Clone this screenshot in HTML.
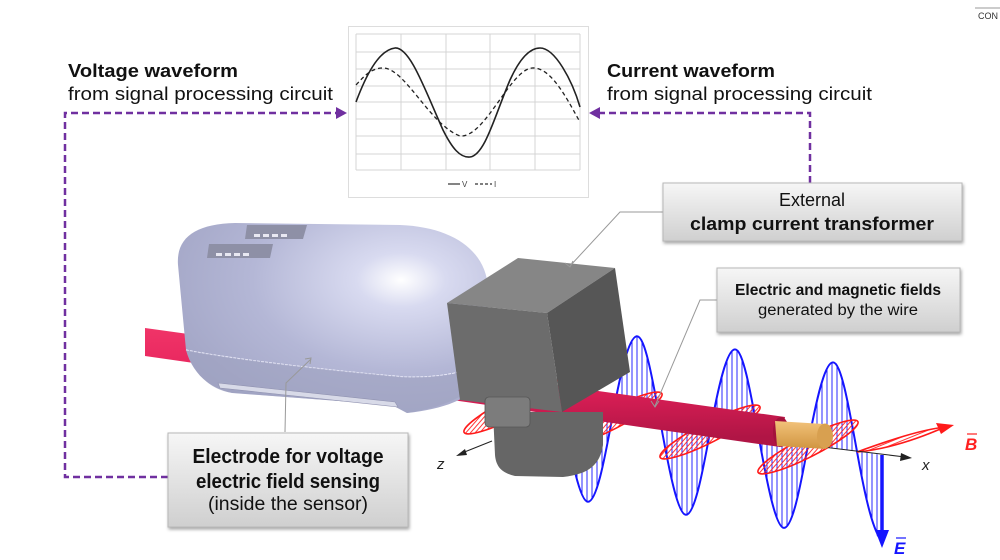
<!DOCTYPE html>
<html><head><meta charset="utf-8"><style>
html,body{margin:0;padding:0;background:#fff;}
svg{display:block;}
text{font-family:"Liberation Sans",sans-serif;}
</style></head><body>
<svg width="1000" height="560" viewBox="0 0 1000 560" xmlns="http://www.w3.org/2000/svg">
<defs>
<linearGradient id="box" x1="0" y1="0" x2="0" y2="1"><stop offset="0" stop-color="#f6f6f6"/><stop offset="1" stop-color="#cfcfcf"/></linearGradient>
<filter id="sh" x="-10%" y="-10%" width="130%" height="140%"><feDropShadow dx="1" dy="2" stdDeviation="1.5" flood-color="#000" flood-opacity="0.35"/></filter>
<pattern id="bh" width="5" height="10" patternUnits="userSpaceOnUse"><line x1="2" y1="0" x2="2" y2="10" stroke="#2a2aff" stroke-width="1"/></pattern>
<pattern id="rh" width="10" height="3.5" patternUnits="userSpaceOnUse" patternTransform="rotate(-22)"><line x1="0" y1="1" x2="10" y2="1" stroke="#ff2020" stroke-width="0.9"/></pattern>
<linearGradient id="wire" x1="0" y1="0" x2="0.1" y2="1"><stop offset="0" stop-color="#f03468"/><stop offset="0.5" stop-color="#e5215a"/><stop offset="1" stop-color="#b01545"/></linearGradient>
<linearGradient id="cu" x1="0" y1="0" x2="0" y2="1"><stop offset="0" stop-color="#f2c27a"/><stop offset="1" stop-color="#d09540"/></linearGradient>
<radialGradient id="body" cx="0.72" cy="0.3" r="0.8"><stop offset="0" stop-color="#ffffff"/><stop offset="0.18" stop-color="#d8daf0"/><stop offset="0.6" stop-color="#b4b7d6"/><stop offset="1" stop-color="#a3a6c6"/></radialGradient>
</defs>

<line x1="975" y1="8" x2="1000" y2="8" stroke="#999" stroke-width="1"/>
<text x="978" y="19" font-size="9" fill="#333">CON</text>

<g stroke="#7030a0" stroke-width="2.5" fill="none" stroke-dasharray="7,4">
<polyline points="168,477 65,477 65,113 338,113"/>
<polyline points="810,183 810,113 598,113"/>
</g>
<polygon points="347,113 336,107 336,119" fill="#7030a0"/>
<polygon points="589,113 600,107 600,119" fill="#7030a0"/>

<text x="68" y="77" font-size="18" font-weight="bold" fill="#111" textLength="170" lengthAdjust="spacingAndGlyphs">Voltage waveform</text>
<text x="68" y="100" font-size="18" fill="#111" textLength="265" lengthAdjust="spacingAndGlyphs">from signal processing circuit</text>
<text x="607" y="77" font-size="18" font-weight="bold" fill="#111" textLength="168" lengthAdjust="spacingAndGlyphs">Current waveform</text>
<text x="607" y="100" font-size="18" fill="#111" textLength="265" lengthAdjust="spacingAndGlyphs">from signal processing circuit</text>

<rect x="348.5" y="26.5" width="240" height="171" fill="#fff" stroke="#ddd"/>
<g stroke="#d4d4d4" stroke-width="1">
<line x1="356" y1="34" x2="580" y2="34"/><line x1="356" y1="52" x2="580" y2="52"/><line x1="356" y1="69" x2="580" y2="69"/><line x1="356" y1="86" x2="580" y2="86"/><line x1="356" y1="102" x2="580" y2="102"/><line x1="356" y1="119" x2="580" y2="119"/><line x1="356" y1="136" x2="580" y2="136"/><line x1="356" y1="154" x2="580" y2="154"/><line x1="356" y1="170" x2="580" y2="170"/>
<line x1="356" y1="34" x2="356" y2="170"/><line x1="401" y1="34" x2="401" y2="170"/><line x1="446" y1="34" x2="446" y2="170"/><line x1="490" y1="34" x2="490" y2="170"/><line x1="535" y1="34" x2="535" y2="170"/><line x1="580" y1="34" x2="580" y2="170"/>
</g>
<path d="M356,102 C365,78 378,50 395,48 C410,47 425,90 443,130 C452,148 460,158 470,157 C485,155 495,115 510,80 C520,58 530,48 540,48 C555,48 572,80 580,107" fill="none" stroke="#222" stroke-width="1.6"/>
<path d="M356,85 C365,75 372,68 383,68 C405,68 430,125 460,136 C485,138 510,70 532,68 C552,66 570,105 580,122" fill="none" stroke="#222" stroke-width="1.3" stroke-dasharray="4,3"/>
<line x1="448" y1="184" x2="460" y2="184" stroke="#333" stroke-width="1.2"/>
<text x="462" y="187" font-size="8" fill="#444">V</text>
<line x1="475" y1="184" x2="492" y2="184" stroke="#333" stroke-width="1.2" stroke-dasharray="3,2"/>
<text x="494" y="187" font-size="8" fill="#444">I</text>

<path d="M563,412.5 C571.2,457.5 579.8,501.8 588,501.8 C596.2,501.8 603.8,464 612,419 C620.2,374 628.8,336.3 637,336.3 C645.2,336.3 652.8,380.5 661,425.5 C669.2,470.5 677.8,514.8 686,514.8 C694.2,514.8 701.8,477 710,432 C718.2,387 726.8,349.4 735,349.4 C743.2,349.4 750.8,393.6 759,438.6 C767.2,483.6 775.8,527.9 784,527.9 C792.2,527.9 799.8,490 808,445 C816.2,400 824.8,362.4 833,362.4 C841.2,362.4 848.8,406.6 857,451.6 C865.2,496.6 873.8,540.9 882,540.9 L882,454.9 L563,412.5 Z" fill="url(#bh)" stroke="none"/>
<path d="M563,412.5 C571.2,457.5 579.8,501.8 588,501.8 C596.2,501.8 603.8,464 612,419 C620.2,374 628.8,336.3 637,336.3 C645.2,336.3 652.8,380.5 661,425.5 C669.2,470.5 677.8,514.8 686,514.8 C694.2,514.8 701.8,477 710,432 C718.2,387 726.8,349.4 735,349.4 C743.2,349.4 750.8,393.6 759,438.6 C767.2,483.6 775.8,527.9 784,527.9 C792.2,527.9 799.8,490 808,445 C816.2,400 824.8,362.4 833,362.4 C841.2,362.4 848.8,406.6 857,451.6 C863,485 870,520 878,535" fill="none" stroke="#1515ff" stroke-width="2"/>
<line x1="882" y1="455" x2="882" y2="535" stroke="#1515ff" stroke-width="3.5"/>
<polygon points="875,530 889,530 882,548" fill="#1515ff"/>
<text x="894" y="554" font-size="17" font-style="italic" font-weight="bold" fill="#1515ff" font-family="Liberation Serif,serif">E</text>
<line x1="896" y1="538" x2="906" y2="538" stroke="#1515ff" stroke-width="1.2"/>

<g fill="url(#rh)" stroke="#ff1a1a" stroke-width="1.6">
<ellipse cx="514" cy="407" rx="56" ry="10" transform="rotate(-27 514 407)"/>
<ellipse cx="612" cy="419" rx="56" ry="10" transform="rotate(-27 612 419)"/>
<ellipse cx="710" cy="432" rx="56" ry="10" transform="rotate(-27 710 432)"/>
<ellipse cx="808" cy="447" rx="56" ry="10" transform="rotate(-27 808 447)"/>
<path d="M857,452 C890,440 920,430 945,427 C920,438 890,449 857,452 Z"/>
</g>
<polygon points="954,425 936,423 941,434" fill="#ff1a1a"/>
<text x="965" y="450" font-size="17" font-style="italic" font-weight="bold" fill="#ff2020" font-family="Liberation Serif,serif">B</text>
<line x1="967" y1="434" x2="977" y2="434" stroke="#ff2020" stroke-width="1.2"/>

<line x1="600" y1="420" x2="905" y2="457" stroke="#222" stroke-width="1"/>
<polygon points="912,458 901,453 900,461" fill="#222"/>
<text x="922" y="470" font-size="15" font-style="italic" fill="#222" font-family="Liberation Serif,serif">x</text>
<line x1="492" y1="441" x2="462" y2="453" stroke="#222" stroke-width="1"/>
<polygon points="456,456 465,449 467,455" fill="#222"/>
<text x="437" y="469" font-size="15" font-style="italic" fill="#222" font-family="Liberation Serif,serif">z</text>

<polygon points="145,328 785,417 780,447 145,356" fill="url(#wire)"/>
<ellipse cx="781" cy="432" rx="8" ry="15" fill="#a3123c"/>
<polygon points="775,421 824,424 826,449 777,446" fill="url(#cu)"/>
<ellipse cx="825" cy="436" rx="8" ry="12.5" fill="#d8a050"/>

<path d="M178,265 C176,238 195,224 235,223 L400,225 C452,227 486,250 488,288 L488,362 C486,392 455,408 407,413 L392,405 L232,393 C208,388 192,372 186,350 Z" fill="url(#body)"/>
<path d="M186,350 C215,356 300,368 405,377 C440,378 470,372 488,360" fill="none" stroke="#f2f2ff" stroke-width="1.2" stroke-dasharray="3,1"/>
<path d="M186,350 C195,378 215,392 235,393 L392,405 L407,413 C450,406 480,392 488,362 C470,372 440,378 405,377 C300,368 215,356 186,350 Z" fill="#9ea1c0" opacity="0.6"/>
<path d="M218,383 L395,402 L398,407 L220,388 Z" fill="#d8dae8" stroke="#9092b0" stroke-width="0.6"/>
<polygon points="247,225 307,225 303,239 245,239" fill="#8e90a6"/>
<polygon points="209,244 273,244 270,258 207,258" fill="#8e90a6"/>
<g fill="#e8e8f2"><rect x="254" y="234" width="6" height="3"/><rect x="263" y="234" width="6" height="3"/><rect x="272" y="234" width="6" height="3"/><rect x="281" y="234" width="6" height="3"/><rect x="216" y="253" width="6" height="3"/><rect x="225" y="253" width="6" height="3"/><rect x="234" y="253" width="6" height="3"/><rect x="243" y="253" width="6" height="3"/></g>

<polygon points="447,303 518,258 615,268 547,313" fill="#868686"/>
<polygon points="547,313 615,268 630,372 562,412" fill="#565656"/>
<polygon points="447,303 547,313 562,412 460,400" fill="#6c6c6c"/>
<path d="M493,412 L603,412 L603,445 C600,464 590,474 563,477 L515,476 C502,473 496,467 495,455 Z" fill="#666"/>
<rect x="485" y="397" width="45" height="30" rx="4" fill="#7c7c7c" stroke="#555" stroke-width="0.8"/>

<g stroke="#999" stroke-width="1" fill="none">
<polyline points="663,212 620,212 570,266"/>
<polyline points="565,263 570,267 573,261"/>
<polyline points="717,300 700,300 655,406"/>
<polyline points="651,401 655,407 659,401"/>
<polyline points="285,432 286,383 311,359"/>
<polyline points="305,359 311,358 310,364"/>
</g>

<rect x="663" y="183" width="299" height="58" fill="url(#box)" stroke="#b8b8b8" filter="url(#sh)"/>
<text x="812" y="206" font-size="18" fill="#111" text-anchor="middle">External</text>
<text x="812" y="230" font-size="18" font-weight="bold" fill="#111" text-anchor="middle" textLength="244" lengthAdjust="spacingAndGlyphs">clamp current transformer</text>

<rect x="717" y="268" width="243" height="64" fill="url(#box)" stroke="#b8b8b8" filter="url(#sh)"/>
<text x="838" y="295" font-size="15.5" font-weight="bold" fill="#111" text-anchor="middle" textLength="206" lengthAdjust="spacingAndGlyphs">Electric and magnetic fields</text>
<text x="838" y="315" font-size="15.5" fill="#111" text-anchor="middle" textLength="160" lengthAdjust="spacingAndGlyphs">generated by the wire</text>

<rect x="168" y="433" width="240" height="94" fill="url(#box)" stroke="#b8b8b8" filter="url(#sh)"/>
<text x="288" y="463" font-size="20" font-weight="bold" fill="#111" text-anchor="middle" textLength="191" lengthAdjust="spacingAndGlyphs">Electrode for voltage</text>
<text x="288" y="488" font-size="20" font-weight="bold" fill="#111" text-anchor="middle" textLength="184" lengthAdjust="spacingAndGlyphs">electric field sensing</text>
<text x="288" y="510" font-size="19" fill="#111" text-anchor="middle" textLength="160" lengthAdjust="spacingAndGlyphs">(inside the sensor)</text>
</svg>
</body></html>
